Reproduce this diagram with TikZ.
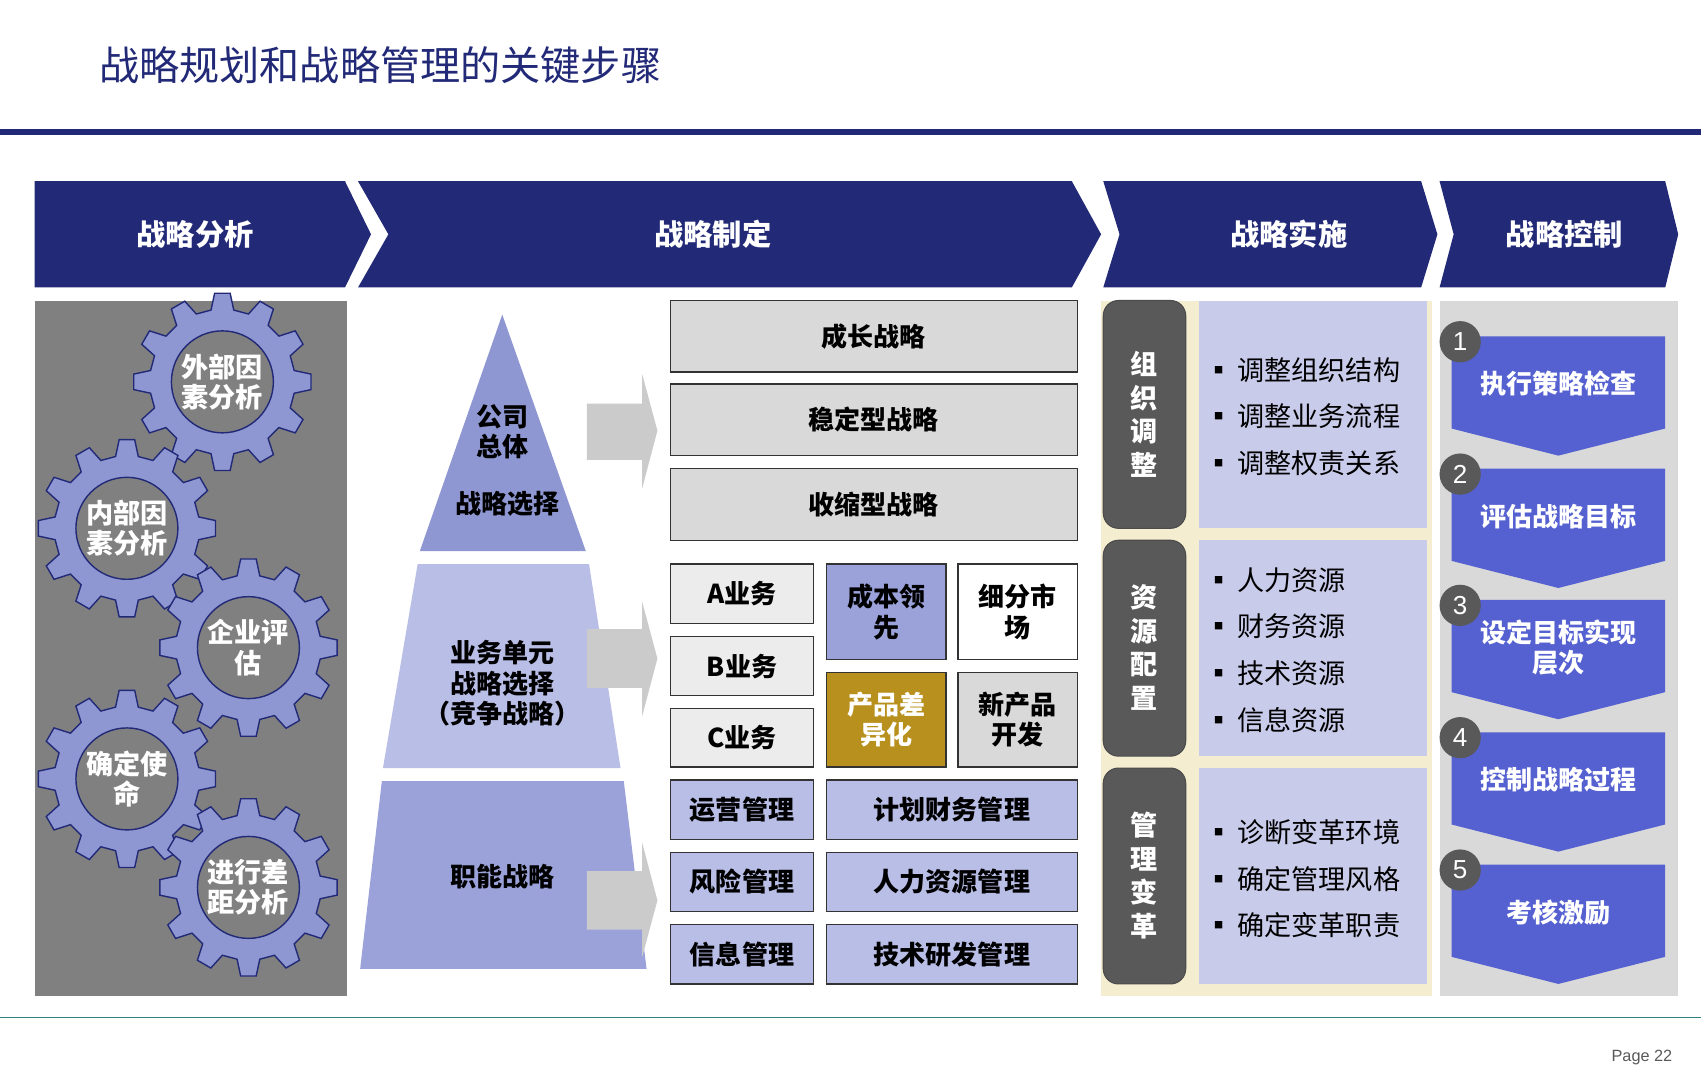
\documentclass[tikz,border=0pt]{standalone}
\usepackage{fontspec}
\setmainfont{Noto Sans CJK SC}
\newfontfamily\latin{Liberation Sans}
\usetikzlibrary{calc}
\definecolor{navy}{HTML}{222A78}
\definecolor{pyrA}{HTML}{8F97D2}
\definecolor{pyrB}{HTML}{B9BEE7}
\definecolor{pyrC}{HTML}{9BA2DA}
\definecolor{lgray}{HTML}{D9D9D9}
\definecolor{dgray}{HTML}{595959}
\definecolor{gold}{HTML}{B8901E}
\definecolor{lav}{HTML}{C9CBEA}
\definecolor{beige}{HTML}{F5EDD0}
\definecolor{royal}{HTML}{5561D1}
\definecolor{gearc}{HTML}{8F97D2}
\tikzset{
 hdr/.style={fill=navy,draw=none},
 hdrtxt/.style={text=white,font=\bfseries\fontsize{27}{30}\selectfont},
 gbox/.style={fill=lgray,draw=black!80,line width=1.2pt},
 btxt/.style={font=\bfseries\fontsize{24}{28}\selectfont,align=center},
 sidebox/.style={fill=dgray,draw=black!70,rounded corners=14pt,line width=1pt},
 bul/.style={font=\fontsize{25}{43}\selectfont,align=left,anchor=west},
 ctrl/.style={fill=royal,draw=none},
 ctxt/.style={text=white,font=\bfseries\fontsize{24}{28}\selectfont,align=center},
 numc/.style={circle,fill=dgray,text=white,minimum size=38pt,inner sep=0pt,font=\latin\fontsize{24}{24}\selectfont},
 gear/.style={fill=gearc,draw=navy,line width=1.3pt},
 geartxt/.style={text=white,font=\bfseries\fontsize{25}{28}\selectfont,align=center},
}
\newcommand\mygear[3]{%
 \begin{scope}[shift={(#1,#2)}]
 \filldraw[gear] (-9:67) \foreach \i in {0,...,11}{ -- (\i*30-9:67) -- (\i*30-5:82) -- (\i*30+5:82) -- (\i*30+9:67) } -- cycle;
 \draw[navy,line width=1.3pt,fill=gray] (0,0) circle (47);
 \node[geartxt] at (0,0) {#3};
 \end{scope}}
\begin{document}
\begin{tikzpicture}[x=1pt,y=-1pt]
\useasboundingbox (0,0) rectangle (1568,996);
\fill[white] (0,0) rectangle (1568,996);
\node[anchor=west,text=navy,font=\fontsize{37}{40}\selectfont] (title) at (88,60) {战略规划和战略管理的关键步骤};
\fill[navy] (0,119) rectangle (1568,124);
\draw[teal!60!gray,line width=1pt] (0,938) -- (1568,938);
\node[anchor=east,text=dgray,font=\latin\fontsize{15}{15}\selectfont] (page) at (1545,975) {Page 22};
% chevrons
\fill[hdr] (32,167) -- (318,167) -- (342,216) -- (318,265) -- (32,265) -- cycle;
\fill[hdr] (330,167) -- (988,167) -- (1015,216) -- (988,265) -- (330,265) -- (358,216) -- cycle;
\fill[hdr] (1017,167) -- (1310,167) -- (1325,216) -- (1310,265) -- (1017,265) -- (1032,216) -- cycle;
\fill[hdr] (1327,167) -- (1535,167) -- (1547,216) -- (1535,265) -- (1327,265) -- (1340,216) -- cycle;
\node[hdrtxt] (h1) at (180,216) {战略分析};
\node[hdrtxt] (h2) at (657,216) {战略制定};
\node[hdrtxt] (h3) at (1188,216) {战略实施};
\node[hdrtxt] (h4) at (1442,216) {战略控制};
% left panel
\fill[gray] (32,277) rectangle (320,918);
\mygear{205}{352}{外部因\\素分析}
\mygear{117}{487}{内部因\\素分析}
\mygear{229}{597}{企业评\\估}
\mygear{117}{718}{确定使\\命}
\mygear{229}{818}{进行差\\距分析}
% pyramid
\fill[pyrA] (463,290) -- (540,508) -- (387,508) -- cycle;
\fill[pyrB] (385,520) -- (543,520) -- (572,708) -- (353,708) -- cycle;
\fill[pyrC] (352,720) -- (575,720) -- (596,893) -- (332,893) -- cycle;
\node[btxt] (p1) at (463,398) {公司\\总体};
\node[btxt] (p1b) at (468,464) {战略选择};
\node[btxt] (p2) at (463,630) {业务单元\\战略选择\\（竞争战略）};
\node[btxt] (p3) at (463,808) {职能战略};
% arrows
\fill[lgray!85!gray] (541,372) -- (592,372) -- (592,345) -- (606,397) -- (592,450) -- (592,424) -- (541,424) -- cycle;
\fill[lgray!85!gray] (541,580) -- (592,580) -- (592,555) -- (606,607) -- (592,660) -- (592,634) -- (541,634) -- cycle;
\fill[lgray!85!gray] (541,803) -- (592,803) -- (592,777) -- (606,830) -- (592,882) -- (592,857) -- (541,857) -- cycle;
% strategy boxes
\node[gbox,btxt,minimum width=375pt,minimum height=66pt] (s1) at (805.5,310) {成长战略};
\node[gbox,btxt,minimum width=375pt,minimum height=66pt] (s2) at (805.5,387) {稳定型战略};
\node[gbox,btxt,minimum width=375pt,minimum height=66pt] (s3) at (805.5,465) {收缩型战略};
\tikzset{cell/.style={draw=black!80,line width=1.2pt,btxt,inner sep=0pt}}
\node[cell,fill=lgray!50,minimum width=132pt,minimum height=55pt] (a) at (684,547.5) {A业务};
\node[cell,fill=lgray!50,minimum width=132pt,minimum height=54pt] (b) at (684,614) {B业务};
\node[cell,fill=lgray!50,minimum width=132pt,minimum height=54pt] (c) at (684,680) {C业务};
\node[cell,fill=pyrC,minimum width=110pt,minimum height=88pt] (cb) at (817,564) {成本领\\先};
\node[cell,fill=white,minimum width=110pt,minimum height=88pt] (xf) at (938,564) {细分市\\场};
\node[cell,fill=gold,text=white,minimum width=110pt,minimum height=87pt] (cp) at (817,663.5) {产品差\\异化};
\node[cell,fill=lgray,minimum width=110pt,minimum height=87pt] (xc) at (938,663.5) {新产品\\开发};
\node[cell,fill=pyrB,minimum width=132pt,minimum height=55pt] (f1) at (684,746.5) {运营管理};
\node[cell,fill=pyrB,minimum width=231pt,minimum height=55pt] (f2) at (877.5,746.5) {计划财务管理};
\node[cell,fill=pyrB,minimum width=132pt,minimum height=54pt] (f3) at (684,813) {风险管理};
\node[cell,fill=pyrB,minimum width=231pt,minimum height=54pt] (f4) at (877.5,813) {人力资源管理};
\node[cell,fill=pyrB,minimum width=132pt,minimum height=55pt] (f5) at (684,879.5) {信息管理};
\node[cell,fill=pyrB,minimum width=231pt,minimum height=55pt] (f6) at (877.5,879.5) {技术研发管理};
% implementation
\fill[beige] (1015,277) rectangle (1320,918);
\draw[sidebox] (1017,277) rectangle (1093,487);
\draw[sidebox] (1017,498) rectangle (1093,697);
\draw[sidebox] (1017,708) rectangle (1093,907);
\tikzset{vt/.style={text=white,font=\bfseries\fontsize{25}{31}\selectfont,align=center}}
\node[vt] (v1) at (1055,382) {组\\织\\调\\整};
\node[vt] (v2) at (1055,597) {资\\源\\配\\置};
\node[vt] (v3) at (1055,807) {管\\理\\变\\革};
\fill[lav] (1105,277) rectangle (1315,487);
\fill[lav] (1105,498) rectangle (1315,697);
\fill[lav] (1105,708) rectangle (1315,907);
\node[bul] (l1) at (1108,384) {▪\,调整组织结构\\▪\,调整业务流程\\▪\,调整权责关系};
\node[bul] (l2) at (1108,599) {▪\,人力资源\\▪\,财务资源\\▪\,技术资源\\▪\,信息资源};
\node[bul] (l3) at (1108,810) {▪\,诊断变革环境\\▪\,确定管理风格\\▪\,确定变革职责};
% control
\fill[lgray] (1327,277) rectangle (1547,918);
\foreach \t/\n/\txt in {310/1/执行策略检查,432/2/评估战略目标,553/3/{设定目标实现\\层次},675/4/控制战略过程,797/5/考核激励}{
 \fill[ctrl] (1338,\t) -- (1535,\t) -- (1535,\t+85) -- (1436.5,\t+110) -- (1338,\t+85) -- cycle;
 \node[ctxt] (c\n) at (1436.5,\t+44) {\txt};
 \node[numc] (n\n) at (1346,\t+5) {\n};
}
\end{tikzpicture}
\end{document}
